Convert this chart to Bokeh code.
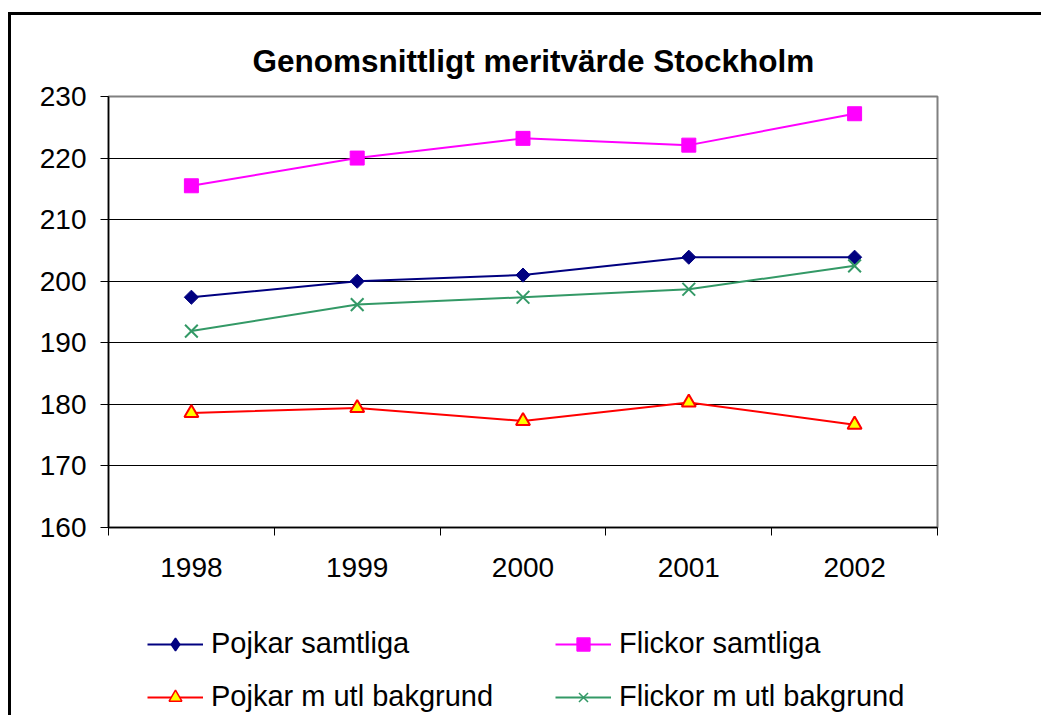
import math
from bokeh.plotting import figure
from bokeh.layouts import column
from bokeh.models import FixedTicker, Legend, LegendItem, Range1d
from bokeh.embed import file_html
from bokeh.resources import INLINE

title_text = "Genomsnittligt meritvärde Stockholm"
years = ["1998", "1999", "2000", "2001", "2002"]
y_ticks = [160, 170, 180, 190, 200, 210, 220, 230]

series_names = ["Pojkar samtliga", "Flickor samtliga", "Pojkar m utl bakgrund", "Flickor m utl bakgrund"]
pojkar_samtliga = [197.4, 200.0, 201.0, 203.9, 203.9]
flickor_samtliga = [215.5, 220.0, 223.2, 222.1, 227.2]
pojkar_utl = [178.6, 179.4, 177.3, 180.3, 176.7]
flickor_utl = [191.9, 196.2, 197.4, 198.7, 202.5]

FONT = "Liberation Sans"

xs = list(range(1, len(years) + 1))

p = figure(width=1030, height=585, output_backend="svg", toolbar_location=None,
           x_range=Range1d(0.5, len(years) + 0.5), y_range=Range1d(y_ticks[0], y_ticks[-1]),
           min_border_left=97, min_border_top=81, min_border_right=104, min_border_bottom=73)
p.background_fill_color = "white"
p.border_fill_color = "white"
p.outline_line_color = "#808080"
p.outline_line_width = 2

p.title.text = title_text
p.title.text_font = FONT
p.title.text_font_size = "31.5px"
p.title.text_font_style = "bold"
p.title.text_color = "black"
p.title.align = "left"
p.title.offset = 144
p.title.standoff = 36

# x axis
p.xaxis.ticker = FixedTicker(ticks=xs, minor_ticks=[x - 0.5 for x in xs] + [xs[-1] + 0.5])
p.xaxis.major_label_overrides = {x: y for x, y in zip(xs, years)}
p.xaxis.major_tick_out = 0
p.xaxis.major_tick_in = 0
p.xaxis.minor_tick_out = 8
p.xaxis.minor_tick_in = 0
p.xaxis.minor_tick_line_color = "black"
p.xaxis.axis_line_color = "black"
p.xaxis.axis_line_width = 1.5
p.xaxis.major_label_text_font = FONT
p.xaxis.major_label_text_font_size = "28px"
p.xaxis.major_label_text_color = "black"
p.xaxis.major_label_standoff = 22

# y axis
p.yaxis.ticker = FixedTicker(ticks=y_ticks)
p.yaxis.major_tick_out = 8
p.yaxis.major_tick_in = 0
p.yaxis.minor_tick_line_color = None
p.yaxis.major_tick_line_color = "black"
p.yaxis.axis_line_color = "black"
p.yaxis.axis_line_width = 1.5
p.yaxis.major_label_text_font = FONT
p.yaxis.major_label_text_font_size = "28px"
p.yaxis.major_label_text_color = "black"
p.yaxis.major_label_standoff = 14

p.xgrid.grid_line_color = None
p.ygrid.ticker = FixedTicker(ticks=y_ticks[1:-1])
p.ygrid.grid_line_color = "black"
p.ygrid.grid_line_width = 1.2

series = [pojkar_samtliga, flickor_samtliga, pojkar_utl, flickor_utl]
colors = ["#000080", "#FF00FF", "#FF0000", "#339966"]

# series
p.line(xs, pojkar_samtliga, line_color=colors[0], line_width=2)
p.scatter(xs, pojkar_samtliga, marker="square", angle=math.pi / 4, size=10,
          fill_color=colors[0], line_color=colors[0])
p.line(xs, flickor_samtliga, line_color=colors[1], line_width=2)
p.scatter(xs, flickor_samtliga, marker="square", size=14, fill_color=colors[1], line_color=colors[1])
p.line(xs, pojkar_utl, line_color=colors[2], line_width=2)
p.scatter(xs, pojkar_utl, marker="triangle", size=14, fill_color="#FFFF00", line_color=colors[2], line_width=2)
p.line(xs, flickor_utl, line_color=colors[3], line_width=2)
p.scatter(xs, flickor_utl, marker="x", size=18, line_color=colors[3], line_width=2)

# legend strip (separate figure below the chart, inside the same outer box)
q = figure(width=1030, height=115, output_backend="svg", toolbar_location=None,
           x_range=Range1d(0, 1), y_range=Range1d(0, 1),
           x_axis_location=None, y_axis_location=None,
           min_border_left=0, min_border_right=0, min_border_top=0, min_border_bottom=0)
q.outline_line_color = None
q.background_fill_color = "white"
q.border_fill_color = "white"
q.xgrid.grid_line_color = None
q.ygrid.grid_line_color = None

markers = ["diamond", "square", "triangle", "x"]
fills = ["#000080", "#FF00FF", "#FFFF00", None]
sizes = [14, 12, 12, 12]
items = []
for name, vals, col, mk, fill, sz in zip(series_names, series, colors, markers, fills, sizes):
    # same series, drawn outside this strip's visible range: only the legend glyphs show
    lr = q.line(xs, vals, line_color=col, line_width=2)
    mr = q.scatter(xs, vals, marker=mk, size=sz, fill_color=fill, line_color=col, line_width=1.5)
    items.append(LegendItem(label=name, renderers=[lr, mr]))

lg = Legend(items=items, location=(39, 2), orientation="horizontal", ncols=2)
lg.label_text_font = FONT
lg.label_text_font_size = "29px"
lg.label_text_color = "black"
lg.glyph_width = 56
lg.glyph_height = 32
lg.label_height = 32
lg.label_width = 324
lg.label_standoff = 8
lg.spacing = 20
lg.padding = 0
lg.margin = 0
lg.border_line_color = None
lg.background_fill_alpha = 0
q.add_layout(lg, "center")

layout = column(p, q, spacing=0)
layout.styles = {"border-left": "3px solid black", "border-top": "3px solid black",
                 "margin-top": "12px", "margin-left": "8px"}

open("out.html", "w").write(file_html(layout, INLINE))
